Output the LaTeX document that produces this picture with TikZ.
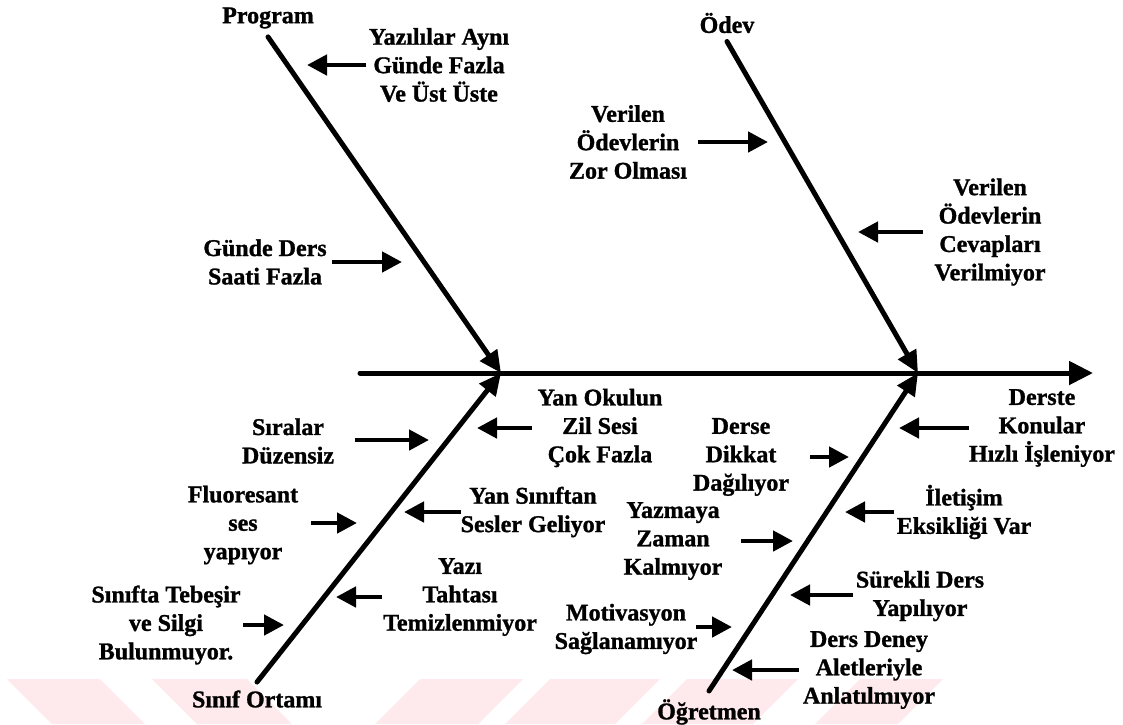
\documentclass[tikz,border=0pt]{standalone}
\usepackage{fontspec}
\setmainfont{Liberation Serif}[BoldFeatures={FakeBold=1.2}]
\usetikzlibrary{arrows.meta}
\definecolor{wmpink}{RGB}{254,234,237}
\tikzset{
  cause/.style={align=center, inner sep=0pt,
                font=\fontsize{12}{14.2}\selectfont\bfseries},
  head/.style={cause, inner sep=4pt},
  bone/.style={-{Triangle[length=11pt,width=10pt]}, line width=2.5pt, line cap=round},
  spine/.style={-{Triangle[length=12pt,width=11.5pt]}, line width=2.5pt, line cap=round},
  hint/.style={-{Triangle[length=10pt,width=10pt]}, line width=2.3pt}
}

\begin{document}
\begin{tikzpicture}[x=0.5pt, y=-0.5pt]
  \useasboundingbox (0,0) rectangle (1123,724);
  \fill[wmpink] (7,679) -- (100,679) -- (145,724) -- (52,724) -- cycle;
  \fill[wmpink] (152,679) -- (247,679) -- (292,724) -- (197,724) -- cycle;
  \fill[wmpink] (420,679) -- (523,679) -- (478,724) -- (375,724) -- cycle;
  \fill[wmpink] (550,679) -- (660,679) -- (615,724) -- (505,724) -- cycle;
  \fill[wmpink] (687,679) -- (798,679) -- (753,724) -- (642,724) -- cycle;
  \fill[wmpink] (860,679) -- (943,679) -- (898,724) -- (815,724) -- cycle;

  \coordinate (sp-a) at (360,373);
  \coordinate (j1) at (501,373);
  \coordinate (j2) at (918,373);
  \coordinate (sp-b) at (1093,373);

  \node[head] (prog)  at (268,18)  {Program};
  \node[head] (odev)  at (727,23)  {Ödev};
  \node[head] (sinif) at (257,699) {Sınıf Ortamı};
  \node[head] (ogr)   at (709,712) {Öğretmen};

  \draw[spine] (sp-a) -- (sp-b);
  \draw[bone] (prog.south) -- (j1);
  \draw[bone] (odev.south) -- (j2);
  \draw[bone] (sinif.north) -- (j1);
  \draw[bone] (ogr.north) -- (j2);

  \node[cause] (yaz)   at (439,65)  {Yazılılar Aynı\\Günde Fazla\\Ve Üst Üste};
  \node[cause] (gds)   at (265,262) {Günde Ders\\Saati Fazla};
  \node[cause] (zor)   at (628,142) {Verilen\\Ödevlerin\\Zor Olması};
  \node[cause] (cev)   at (990,232) {Verilen\\Ödevlerin\\Cevapları\\Verilmiyor};
  \node[cause] (sira)  at (288,441) {Sıralar\\Düzensiz};
  \node[cause] (zil)   at (600,428) {Yan Okulun\\Zil Sesi\\Çok Fazla};
  \node[cause] (flu)   at (243,525) {Fluoresant\\ses\\yapıyor};
  \node[cause] (yan)   at (533,512) {Yan Sınıftan\\Sesler Geliyor};
  \node[cause] (yazi)  at (460,597) {Yazı\\Tahtası\\Temizlenmiyor};
  \node[cause] (teb)   at (166,625) {Sınıfta Tebeşir\\ve Silgi\\Bulunmuyor.};
  \node[cause] (derse) at (741,457) {Derse\\Dikkat\\Dağılıyor};
  \node[cause] (konu)  at (1042,428) {Derste\\Konular\\Hızlı İşleniyor};
  \node[cause] (ilet)  at (964,512) {İletişim\\Eksikliği Var};
  \node[cause] (zam)   at (673,541) {Yazmaya\\Zaman\\Kalmıyor};
  \node[cause] (sur)   at (920,596) {Sürekli Ders\\Yapılıyor};
  \node[cause] (mot)   at (626,629) {Motivasyon\\Sağlanamıyor};
  \node[cause] (den)   at (869,670) {Ders Deney\\Aletleriyle\\Anlatılmıyor};

  \coordinate (yaz-a) at (366,65);    \coordinate (yaz-b) at (307,65);
  \coordinate (gds-a) at (332,262);   \coordinate (gds-b) at (402,262);
  \coordinate (zor-a) at (698,142);   \coordinate (zor-b) at (768,142);
  \coordinate (cev-a) at (923,232);   \coordinate (cev-b) at (858,232);
  \coordinate (sira-a) at (355,440);  \coordinate (sira-b) at (429,440);
  \coordinate (zil-a) at (532,428);   \coordinate (zil-b) at (477,428);
  \coordinate (flu-a) at (311,523);   \coordinate (flu-b) at (357,523);
  \coordinate (yan-a) at (461,512);   \coordinate (yan-b) at (404,512);
  \coordinate (yazi-a) at (382,597);  \coordinate (yazi-b) at (336,597);
  \coordinate (teb-a) at (243,625);   \coordinate (teb-b) at (284,625);
  \coordinate (derse-a) at (810,457); \coordinate (derse-b) at (849,457);
  \coordinate (konu-a) at (969,428);  \coordinate (konu-b) at (899,428);
  \coordinate (ilet-a) at (894,512);  \coordinate (ilet-b) at (845,512);
  \coordinate (zam-a) at (741,541);   \coordinate (zam-b) at (793,541);
  \coordinate (sur-a) at (853,595);   \coordinate (sur-b) at (790,595);
  \coordinate (mot-a) at (696,627);   \coordinate (mot-b) at (732,627);
  \coordinate (den-a) at (799,670);   \coordinate (den-b) at (732,670);

  \draw[hint] (yaz-a) -- (yaz-b);   \draw[hint] (gds-a) -- (gds-b);
  \draw[hint] (zor-a) -- (zor-b);   \draw[hint] (cev-a) -- (cev-b);
  \draw[hint] (sira-a) -- (sira-b); \draw[hint] (zil-a) -- (zil-b);
  \draw[hint] (flu-a) -- (flu-b);   \draw[hint] (yan-a) -- (yan-b);
  \draw[hint] (yazi-a) -- (yazi-b); \draw[hint] (teb-a) -- (teb-b);
  \draw[hint] (derse-a) -- (derse-b); \draw[hint] (konu-a) -- (konu-b);
  \draw[hint] (ilet-a) -- (ilet-b); \draw[hint] (zam-a) -- (zam-b);
  \draw[hint] (sur-a) -- (sur-b);   \draw[hint] (mot-a) -- (mot-b);
  \draw[hint] (den-a) -- (den-b);
\end{tikzpicture}
\end{document}
